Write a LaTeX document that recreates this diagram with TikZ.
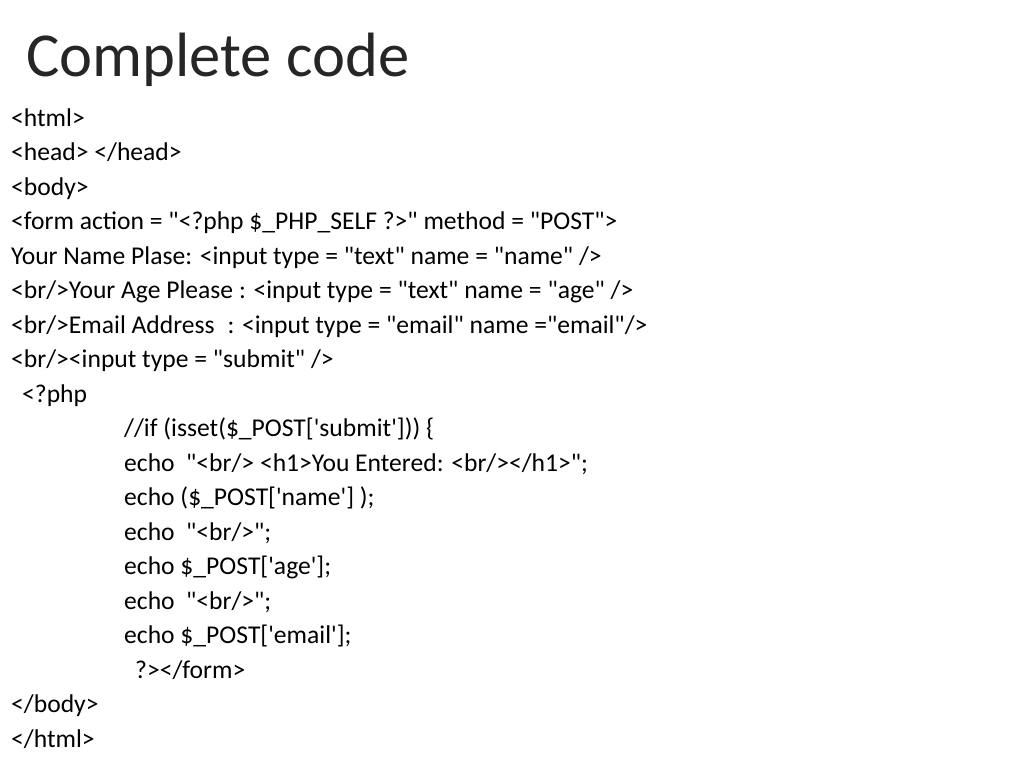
\documentclass[tikz,border=0pt]{standalone}
\usepackage{fontspec}
\newfontfamily\cf{Carlito}
\begin{document}
\begin{tikzpicture}[x=1pt,y=-1pt,
  ln/.style={anchor=base west,inner sep=0pt,font=\cf\fontsize{25.6}{30}\selectfont,text=black}]
\useasboundingbox (0,0) rectangle (1024,768);
\node[anchor=base west,inner sep=0pt,font=\cf\fontsize{62.6}{70}\selectfont,text=black!85] (title) at (26,76) {Complete code};
\node[ln] (l1) at (11,126) {<html>};
\node[ln] (l2) at (11,160.5) {<head> </head>};
\node[ln] (l3) at (11,195) {<body>};
\node[ln] (l4) at (11,229.5) {<form action = "<?php \$\_PHP\_SELF ?>" method = "POST">};
\node[ln] (l5) at (11,264) {Your Name Plase: <input type = "text" name = "name" />};
\node[ln] (l6) at (11,298.5) {<br/>Your Age Please : <input type = "text" name = "age" />};
\node[ln] (l7) at (11,333) {<br/>Email Address\hspace{0.5em}: <input type = "email" name ="email"/>};
\node[ln] (l8) at (11,367.5) {<br/><input type = "submit" />};
\node[ln] (l9) at (22,402) {<?php};
\node[ln] (l10) at (124,436.5) {//if (isset(\$\_POST['submit'])) \{};
\node[ln] (l11) at (124,471) {echo\hspace{0.45em}"<br/> <h1>You Entered: <br/></h1>";};
\node[ln] (l12) at (124,505.5) {echo (\$\_POST['name'] );};
\node[ln] (l13) at (124,540) {echo\hspace{0.45em}"<br/>";};
\node[ln] (l14) at (124,574.5) {echo \$\_POST['age'];};
\node[ln] (l15) at (124,609) {echo\hspace{0.45em}"<br/>";};
\node[ln] (l16) at (124,643.5) {echo \$\_POST['email'];};
\node[ln] (l17) at (135,678) {?></form>};
\node[ln] (l18) at (11,712.5) {</body>};
\node[ln] (l19) at (11,747) {</html>};
\end{tikzpicture}
\end{document}
